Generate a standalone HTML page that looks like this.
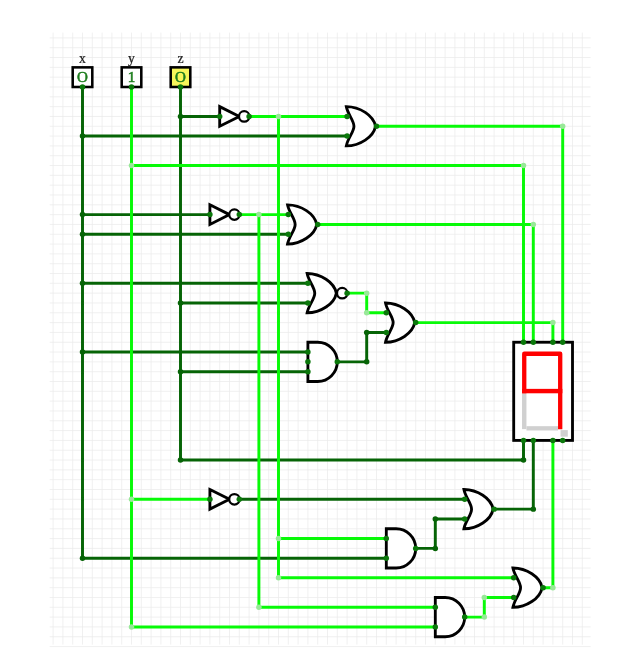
<!DOCTYPE html>
<html><head><meta charset="utf-8"><style>
html,body{margin:0;padding:0;background:#fff;}
svg{display:block;}
</style></head><body>
<svg width="625" height="667" viewBox="0 0 625 667">
<defs><filter id="gs" x="-20%" y="-20%" width="140%" height="140%"><feColorMatrix type="identity"/></filter></defs>
<g transform="translate(53.1 37.91) scale(0.98 0.9817)">
<path d="M0 -5.4V618M10 -5.4V618M20 -5.4V618M30 -5.4V618M40 -5.4V618M50 -5.4V618M60 -5.4V618M70 -5.4V618M80 -5.4V618M90 -5.4V618M100 -5.4V618M110 -5.4V618M120 -5.4V618M130 -5.4V618M140 -5.4V618M150 -5.4V618M160 -5.4V618M170 -5.4V618M180 -5.4V618M190 -5.4V618M200 -5.4V618M210 -5.4V618M220 -5.4V618M230 -5.4V618M240 -5.4V618M250 -5.4V618M260 -5.4V618M270 -5.4V618M280 -5.4V618M290 -5.4V618M300 -5.4V618M310 -5.4V618M320 -5.4V618M330 -5.4V618M340 -5.4V618M350 -5.4V618M360 -5.4V618M370 -5.4V618M380 -5.4V618M390 -5.4V618M400 -5.4V618M410 -5.4V618M420 -5.4V618M430 -5.4V618M440 -5.4V618M450 -5.4V618M460 -5.4V618M470 -5.4V618M480 -5.4V618M490 -5.4V618M500 -5.4V618M510 -5.4V618M520 -5.4V618M530 -5.4V618M540 -5.4V618M-3.5 0H548.5M-3.5 10H548.5M-3.5 20H548.5M-3.5 30H548.5M-3.5 40H548.5M-3.5 50H548.5M-3.5 60H548.5M-3.5 70H548.5M-3.5 80H548.5M-3.5 90H548.5M-3.5 100H548.5M-3.5 110H548.5M-3.5 120H548.5M-3.5 130H548.5M-3.5 140H548.5M-3.5 150H548.5M-3.5 160H548.5M-3.5 170H548.5M-3.5 180H548.5M-3.5 190H548.5M-3.5 200H548.5M-3.5 210H548.5M-3.5 220H548.5M-3.5 230H548.5M-3.5 240H548.5M-3.5 250H548.5M-3.5 260H548.5M-3.5 270H548.5M-3.5 280H548.5M-3.5 290H548.5M-3.5 300H548.5M-3.5 310H548.5M-3.5 320H548.5M-3.5 330H548.5M-3.5 340H548.5M-3.5 350H548.5M-3.5 360H548.5M-3.5 370H548.5M-3.5 380H548.5M-3.5 390H548.5M-3.5 400H548.5M-3.5 410H548.5M-3.5 420H548.5M-3.5 430H548.5M-3.5 440H548.5M-3.5 450H548.5M-3.5 460H548.5M-3.5 470H548.5M-3.5 480H548.5M-3.5 490H548.5M-3.5 500H548.5M-3.5 510H548.5M-3.5 520H548.5M-3.5 530H548.5M-3.5 540H548.5M-3.5 550H548.5M-3.5 560H548.5M-3.5 570H548.5M-3.5 580H548.5M-3.5 590H548.5M-3.5 600H548.5M-3.5 610H548.5M-3.5 620H548.5" stroke="#eaeaea" stroke-width="0.75" fill="none"/>
<path d="M30 50V530H340M130 50V430H480V410M130 80H170M30 100H300M30 180H160M30 200H240M30 250H260M130 270H260M30 320H260M130 340H260M290 330H320V300H340M190 470H420M370 520H390V490H420M450 480H490V410" stroke="#066406" stroke-width="3.0" fill="none" stroke-linejoin="round"/>
<path d="M80 50V600H390M80 130H480V310M200 80H300M230 80V550H470M230 510H340M330 90H520V310M190 180H240M210 180V580H390M270 190H490V310M300 260H320V280H340M370 290H510V310M80 470H160M420 590H440V570H470M500 560H510V410" stroke="#08fa08" stroke-width="3.0" fill="none" stroke-linejoin="round"/>
<circle cx="30" cy="100" r="2.8" fill="#066406"/>
<circle cx="30" cy="180" r="2.8" fill="#066406"/>
<circle cx="30" cy="200" r="2.8" fill="#066406"/>
<circle cx="30" cy="250" r="2.8" fill="#066406"/>
<circle cx="30" cy="320" r="2.8" fill="#066406"/>
<circle cx="130" cy="80" r="2.8" fill="#066406"/>
<circle cx="130" cy="270" r="2.8" fill="#066406"/>
<circle cx="130" cy="340" r="2.8" fill="#066406"/>
<circle cx="30" cy="530" r="2.8" fill="#066406"/>
<circle cx="130" cy="430" r="2.8" fill="#066406"/>
<circle cx="480" cy="430" r="2.8" fill="#066406"/>
<circle cx="320" cy="330" r="2.8" fill="#066406"/>
<circle cx="320" cy="300" r="2.8" fill="#066406"/>
<circle cx="390" cy="520" r="2.8" fill="#066406"/>
<circle cx="390" cy="490" r="2.8" fill="#066406"/>
<circle cx="490" cy="480" r="2.8" fill="#066406"/>
<circle cx="80" cy="130" r="2.8" fill="#98e898"/>
<circle cx="230" cy="80" r="2.8" fill="#98e898"/>
<circle cx="210" cy="180" r="2.8" fill="#98e898"/>
<circle cx="80" cy="470" r="2.8" fill="#98e898"/>
<circle cx="230" cy="510" r="2.8" fill="#98e898"/>
<circle cx="480" cy="130" r="2.8" fill="#98e898"/>
<circle cx="520" cy="90" r="2.8" fill="#98e898"/>
<circle cx="490" cy="190" r="2.8" fill="#98e898"/>
<circle cx="510" cy="290" r="2.8" fill="#98e898"/>
<circle cx="80" cy="600" r="2.8" fill="#98e898"/>
<circle cx="230" cy="550" r="2.8" fill="#98e898"/>
<circle cx="210" cy="580" r="2.8" fill="#98e898"/>
<circle cx="320" cy="260" r="2.8" fill="#98e898"/>
<circle cx="320" cy="280" r="2.8" fill="#98e898"/>
<circle cx="440" cy="590" r="2.8" fill="#98e898"/>
<circle cx="440" cy="570" r="2.8" fill="#98e898"/>
<circle cx="510" cy="560" r="2.8" fill="#98e898"/>
<g fill="#fff" stroke="#000" stroke-width="2.9" stroke-linejoin="miter"><path d="M170 70L190 80L170 90Z"/><circle cx="195" cy="80" r="5.3" stroke-width="2.3"/><path d="M160 170L180 180L160 190Z"/><circle cx="185" cy="180" r="5.3" stroke-width="2.3"/><path d="M160 460L180 470L160 480Z"/><circle cx="185" cy="470" r="5.3" stroke-width="2.3"/><path d="M299.2 70C313 70 327 79 329 90C327 101 313 110 299.2 110C300.7 102 307 96 307 90C307 84 300.7 78 299.2 70Z"/><path d="M239.2 170C253 170 267 179 269 190C267 201 253 210 239.2 210C240.7 202 247 196 247 190C247 184 240.7 178 239.2 170Z"/><path d="M339.2 270C353 270 367 279 369 290C367 301 353 310 339.2 310C340.7 302 347 296 347 290C347 284 340.7 278 339.2 270Z"/><path d="M419.2 460C433 460 447 469 449 480C447 491 433 500 419.2 500C420.7 492 427 486 427 480C427 474 420.7 468 419.2 460Z"/><path d="M469.2 540C483 540 497 549 499 560C497 571 483 580 469.2 580C470.7 572 477 566 477 560C477 554 470.7 548 469.2 540Z"/><path d="M259.2 240C273 240 287 249 289 260C287 271 273 280 259.2 280C260.7 272 267 266 267 260C267 254 260.7 248 259.2 240Z"/><circle cx="295" cy="260" r="5.3" stroke-width="2.3"/><path d="M260 310H270A20 20 0 0 1 270 350H260Z"/><path d="M340 500H350A20 20 0 0 1 350 540H340Z"/><path d="M390 570H400A20 20 0 0 1 400 610H390Z"/></g>
<rect x="470" y="310" width="60" height="100" fill="#fff" stroke="#000" stroke-width="2.9"/>
<rect x="478.5" y="362" width="4.5" height="36.5" fill="#d0d0d0"/>
<rect x="483" y="395.5" width="32.2" height="4.4" fill="#d0d0d0"/>
<rect x="517.8" y="399.5" width="7.4" height="6.7" fill="#d0d0d0"/>
<path d="M480.75 362V321.75H517.45V398.7" stroke="#ff0000" stroke-width="4.4" fill="none" stroke-linejoin="round"/>
<rect x="478.55" y="357.5" width="41.1" height="4.5" fill="#ff0000"/>
<rect x="20" y="30" width="20" height="20" fill="#fff" stroke="#000" stroke-width="2.6"/>
<text x="30" y="45" font-family="Liberation Serif" font-size="15.4" fill="#1d7d1d" stroke="#1d7d1d" stroke-width="0.55" filter="url(#gs)" text-anchor="middle">O</text>
<text x="30" y="25.2" font-family="Liberation Serif" font-size="14" fill="#222" stroke="#222" stroke-width="0.25" filter="url(#gs)" text-anchor="middle">x</text>
<rect x="70" y="30" width="20" height="20" fill="#fff" stroke="#000" stroke-width="2.6"/>
<text x="80" y="45" font-family="Liberation Serif" font-size="15.4" fill="#1d7d1d" stroke="#1d7d1d" stroke-width="0.55" filter="url(#gs)" text-anchor="middle">1</text>
<text x="80" y="25.2" font-family="Liberation Serif" font-size="14" fill="#222" stroke="#222" stroke-width="0.25" filter="url(#gs)" text-anchor="middle">y</text>
<rect x="120" y="30" width="20" height="20" fill="#f7f75a" stroke="#000" stroke-width="2.6"/>
<text x="130" y="45" font-family="Liberation Serif" font-size="15.4" fill="#1d7d1d" stroke="#1d7d1d" stroke-width="0.55" filter="url(#gs)" text-anchor="middle">O</text>
<text x="130" y="25.2" font-family="Liberation Serif" font-size="14" fill="#222" stroke="#222" stroke-width="0.25" filter="url(#gs)" text-anchor="middle">z</text>
<circle cx="170" cy="80" r="2.8" fill="#0b780b"/>
<circle cx="200" cy="80" r="2.8" fill="#0b780b"/>
<circle cx="160" cy="180" r="2.8" fill="#0b780b"/>
<circle cx="190" cy="180" r="2.8" fill="#0b780b"/>
<circle cx="160" cy="470" r="2.8" fill="#0b780b"/>
<circle cx="190" cy="470" r="2.8" fill="#0b780b"/>
<circle cx="300" cy="80" r="2.8" fill="#0b780b"/>
<circle cx="300" cy="100" r="2.8" fill="#0b780b"/>
<circle cx="330" cy="90" r="2.8" fill="#0b780b"/>
<circle cx="240" cy="180" r="2.8" fill="#0b780b"/>
<circle cx="240" cy="200" r="2.8" fill="#0b780b"/>
<circle cx="270" cy="190" r="2.8" fill="#0b780b"/>
<circle cx="340" cy="280" r="2.8" fill="#0b780b"/>
<circle cx="340" cy="300" r="2.8" fill="#0b780b"/>
<circle cx="370" cy="290" r="2.8" fill="#0b780b"/>
<circle cx="420" cy="470" r="2.8" fill="#0b780b"/>
<circle cx="420" cy="490" r="2.8" fill="#0b780b"/>
<circle cx="450" cy="480" r="2.8" fill="#0b780b"/>
<circle cx="470" cy="550" r="2.8" fill="#0b780b"/>
<circle cx="470" cy="570" r="2.8" fill="#0b780b"/>
<circle cx="500" cy="560" r="2.8" fill="#0b780b"/>
<circle cx="260" cy="250" r="2.8" fill="#0b780b"/>
<circle cx="260" cy="270" r="2.8" fill="#0b780b"/>
<circle cx="300" cy="260" r="2.8" fill="#0b780b"/>
<circle cx="260" cy="320" r="2.8" fill="#0b780b"/>
<circle cx="260" cy="330" r="2.8" fill="#0b780b"/>
<circle cx="260" cy="340" r="2.8" fill="#0b780b"/>
<circle cx="290" cy="330" r="2.8" fill="#0b780b"/>
<circle cx="340" cy="510" r="2.8" fill="#0b780b"/>
<circle cx="340" cy="530" r="2.8" fill="#0b780b"/>
<circle cx="370" cy="520" r="2.8" fill="#0b780b"/>
<circle cx="390" cy="580" r="2.8" fill="#0b780b"/>
<circle cx="390" cy="600" r="2.8" fill="#0b780b"/>
<circle cx="420" cy="590" r="2.8" fill="#0b780b"/>
<circle cx="480" cy="310" r="2.8" fill="#0b780b"/>
<circle cx="480" cy="410" r="2.8" fill="#0b780b"/>
<circle cx="490" cy="310" r="2.8" fill="#0b780b"/>
<circle cx="490" cy="410" r="2.8" fill="#0b780b"/>
<circle cx="510" cy="310" r="2.8" fill="#0b780b"/>
<circle cx="510" cy="410" r="2.8" fill="#0b780b"/>
<circle cx="520" cy="310" r="2.8" fill="#0b780b"/>
<circle cx="520" cy="410" r="2.8" fill="#0b780b"/>
<circle cx="30" cy="50" r="2.8" fill="#0b780b"/>
<circle cx="80" cy="50" r="2.8" fill="#0b780b"/>
<circle cx="130" cy="50" r="2.8" fill="#0b780b"/>
</g>
</svg>
</body></html>
